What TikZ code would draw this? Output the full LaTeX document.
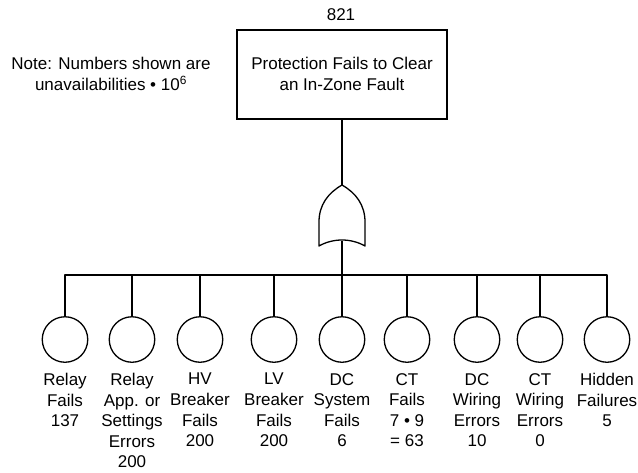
\documentclass[tikz,border=0pt]{standalone}
\usepackage{fontspec}
\setmainfont{Liberation Sans}
\begin{document}
\begin{tikzpicture}[x=1pt,y=-1pt,
  wire/.style={line width=1.3pt, line join=round},
  txt/.style={font=\fontsize{17}{20.6}\selectfont, align=center, inner sep=0pt},
  topbox/.style={draw, line width=1.3pt, minimum width=210pt, minimum height=89pt, inner sep=0pt},
  basic/.style={draw, circle, line width=1.3pt, minimum size=45.5pt, inner sep=0pt},
  lbl/.style={txt, anchor=north}]
\useasboundingbox (0,0) rectangle (638,472);

% top event
\node[topbox] (top) at (342,74.5) {};
\node[txt] (toptxt) at (342,74) {Protection Fails to Clear\\an In-Zone Fault};
\node[txt] (topval) at (341,15) {821};
\node[txt] (note) at (111,74) {Note: Numbers shown are\\unavailabilities • 10\textsuperscript{6}};

% OR gate
\coordinate (gtop) at (342,185);
\coordinate (gbot) at (342,241);
\draw[wire] (gtop) .. controls (328,193) and (319,205) .. (319,222) -- (319,246)
  .. controls (333,238) and (351,238) .. (365,246) -- (365,222)
  .. controls (365,205) and (356,193) .. (gtop) -- cycle;
\draw[wire] (top.south) -- (gtop);

% basic events
\foreach \i/\x in {1/65,2/132,3/200,4/274,5/342,6/407,7/477,8/540,9/607}
  \node[basic] (c\i) at (\x,339.5) {};

\coordinate (bus) at (342,275);
\draw[wire] (gbot) -- (bus);
\draw[wire] (c1.north) |- (bus) -| (c9.north);
\foreach \i in {2,...,8}
  \draw[wire] (c\i.north) -- (c\i.north |- bus);

% event labels
\node[lbl] (l1) at (65,373)  {Relay\\Fails\\137};
\node[lbl] (l2) at (132,373) {Relay\\App. or\\Settings\\Errors\\200};
\node[lbl] (l3) at (200,373) {HV\\Breaker\\Fails\\200};
\node[lbl] (l4) at (274,373) {LV\\Breaker\\Fails\\200};
\node[lbl] (l5) at (342,373) {DC\\System\\Fails\\6};
\node[lbl] (l6) at (407,373) {CT\\Fails\\7 • 9\\= 63};
\node[lbl] (l7) at (477,373) {DC\\Wiring\\Errors\\10};
\node[lbl] (l8) at (540,373) {CT\\Wiring\\Errors\\0};
\node[lbl] (l9) at (607,373) {Hidden\\Failures\\5};
\end{tikzpicture}
\end{document}
